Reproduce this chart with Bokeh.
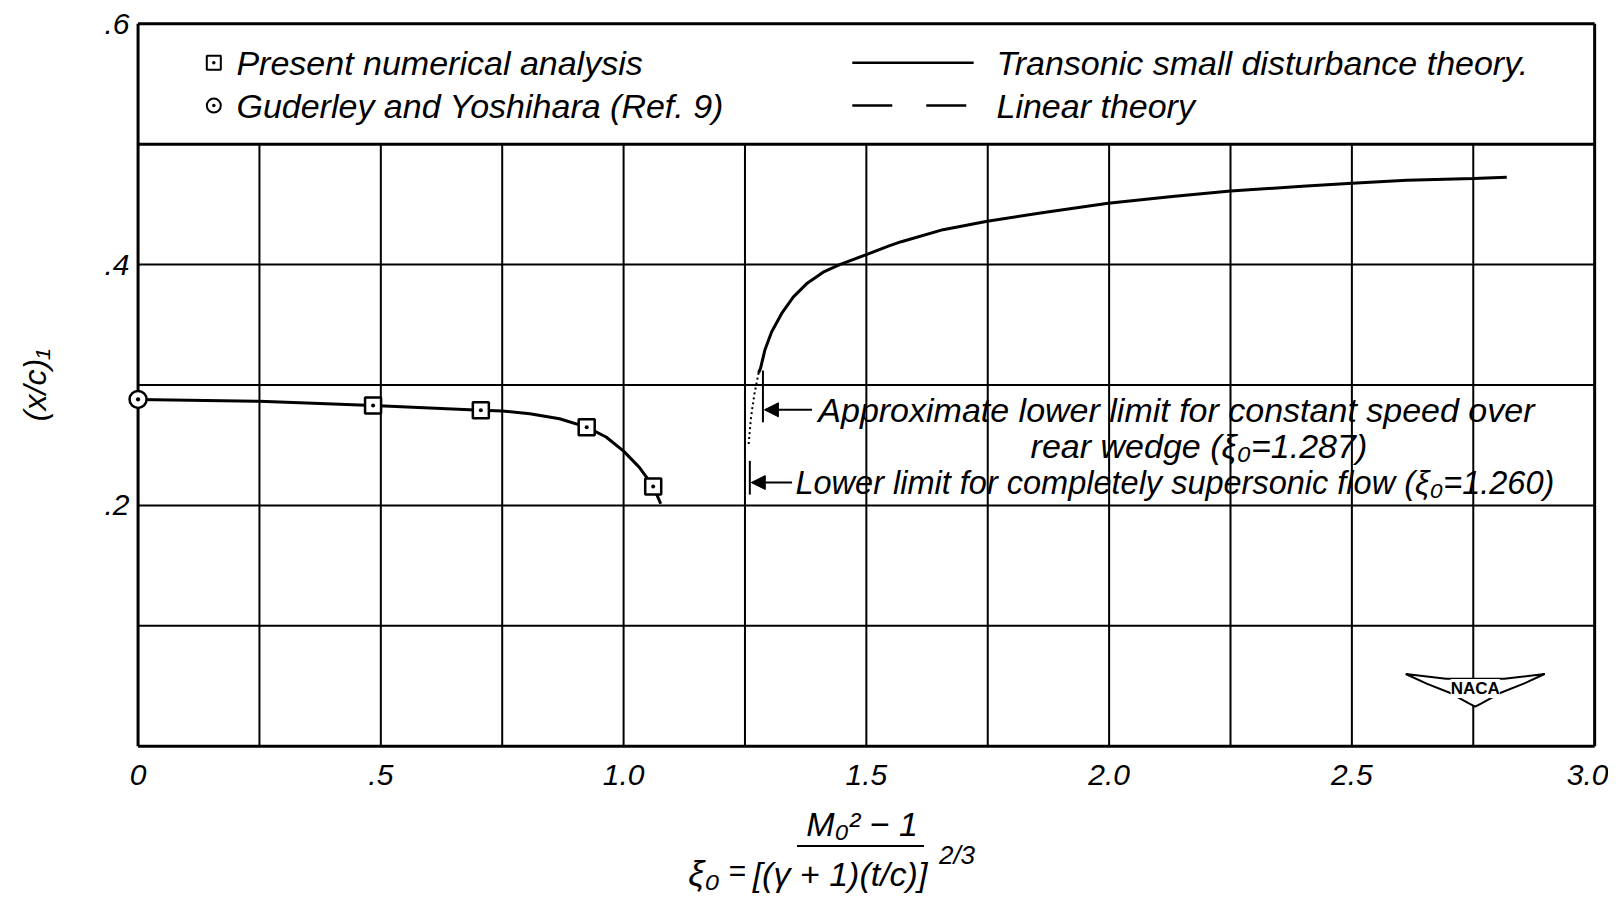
from bokeh.plotting import figure
from bokeh.layouts import column
from bokeh.models import Range1d, FixedTicker, Label, Arrow, NormalHead, Div
from bokeh.embed import file_html
from bokeh.resources import INLINE

# ---------------- data ----------------
# Present numerical analysis (squares)
num_x = [0.484, 0.706, 0.924, 1.061]
num_y = [0.283, 0.279, 0.265, 0.2158]
# Guderley and Yoshihara (Ref. 9) (circle)
gy_x = [0.0]
gy_y = [0.288]
# faired curve through numerical results
num_curve_x = [0.0, 0.25, 0.484, 0.706, 0.75, 0.807, 0.868, 0.924, 0.964, 1.0, 1.032, 1.061, 1.0765]
num_curve_y = [0.288, 0.2865, 0.283, 0.279, 0.2784, 0.2762, 0.272, 0.265, 0.2568, 0.2451, 0.2318, 0.2158, 0.2014]
# transonic small disturbance theory (solid)
tsd_x = [1.278, 1.282, 1.291, 1.3048, 1.3253, 1.3493, 1.3767, 1.411, 1.445, 1.50, 1.548,
         1.572, 1.658, 1.749, 1.862, 1.998, 2.130, 2.250, 2.398, 2.500, 2.613, 2.750, 2.819]
tsd_y = [0.310, 0.3138, 0.329, 0.344, 0.3592, 0.373, 0.384, 0.3937, 0.400, 0.4083, 0.4157,
         0.419, 0.429, 0.436, 0.443, 0.451, 0.4565, 0.461, 0.465, 0.4675, 0.470, 0.4714, 0.4725]
# transonic theory continued below approximate limit (dotted)
tsd_dot_x = [1.2576, 1.2624, 1.2692, 1.278]
tsd_dot_y = [0.251, 0.273, 0.292, 0.310]
# limits
xi_approx = 1.287
xi_approx_bar = [0.269, 0.312]
xi_lower = 1.260
xi_lower_bar = [0.209, 0.237]

# axes / grid
x_min, x_max = 0.0, 3.0
y_min, y_max = 0.0, 0.6
x_ticks = [0, 0.5, 1.0, 1.5, 2.0, 2.5, 3.0]
x_tick_labels = ["0", ".5", "1.0", "1.5", "2.0", "2.5", "3.0"]
y_ticks = [0.2, 0.4, 0.6]
y_tick_labels = [".2", ".4", ".6"]
x_grid = [0.25, 0.5, 0.75, 1.0, 1.25, 1.5, 1.75, 2.0, 2.25, 2.5, 2.75]
y_grid = [0.1, 0.2, 0.3, 0.4]
legend_bottom = 0.5

FONT = "Liberation Sans, DejaVu Sans, sans-serif"

# ranges padded slightly so edge markers are not clipped; the chart box is drawn at 0..3 x 0..0.6
p = figure(width=1608, height=800, x_range=Range1d(-0.03, 3.01), y_range=Range1d(-0.006, 0.606),
           output_backend="svg", toolbar_location=None,
           min_border_left=123, min_border_right=9, min_border_top=16, min_border_bottom=47)
p.background_fill_color = "white"
p.border_fill_color = "white"
p.outline_line_color = None
p.xgrid.visible = False
p.ygrid.visible = False

for ax in (p.xaxis, p.yaxis):
    ax.axis_line_color = None
    ax.major_tick_line_color = None
    ax.minor_tick_line_color = None
    ax.major_label_text_font = FONT
    ax.major_label_text_font_style = "italic"
    ax.major_label_text_font_size = "30px"
    ax.major_label_text_color = "black"

p.xaxis.ticker = FixedTicker(ticks=x_ticks)
p.xaxis.major_label_overrides = {t: s for t, s in zip(x_ticks, x_tick_labels)}
p.xaxis.major_label_standoff = 5
p.yaxis.ticker = FixedTicker(ticks=y_ticks)
p.yaxis.major_label_overrides = {t: s for t, s in zip(y_ticks, y_tick_labels)}
p.yaxis.major_label_standoff = -12
p.yaxis.axis_label = "(x/c)\u2081"
p.yaxis.axis_label_text_font = FONT
p.yaxis.axis_label_text_font_style = "italic"
p.yaxis.axis_label_text_font_size = "32px"
p.yaxis.axis_label_text_color = "black"
p.yaxis.axis_label_standoff = 48

# grid lines (only below legend box)
p.segment(x0=x_grid, y0=[y_min] * len(x_grid), x1=x_grid, y1=[legend_bottom] * len(x_grid),
          line_color="black", line_width=2)
p.segment(x0=[x_min] * len(y_grid), y0=y_grid, x1=[x_max] * len(y_grid), y1=y_grid,
          line_color="black", line_width=2)
p.segment(x0=[x_min], y0=[legend_bottom], x1=[x_max], y1=[legend_bottom], line_color="black", line_width=3)
# chart box
p.segment(x0=[x_min, x_max, x_min, x_min], y0=[y_min, y_min, y_min, y_max],
          x1=[x_min, x_max, x_max, x_max], y1=[y_max, y_max, y_min, y_max],
          line_color="black", line_width=3)

# curves
p.line(num_curve_x, num_curve_y, line_color="black", line_width=3)
p.line(tsd_x, tsd_y, line_color="black", line_width=3)
p.line(tsd_dot_x, tsd_dot_y, line_color="black", line_width=2, line_dash="2 3")

# limit bars
p.segment(x0=[xi_approx], y0=[xi_approx_bar[0]], x1=[xi_approx], y1=[xi_approx_bar[1]],
          line_color="black", line_width=2)
p.segment(x0=[xi_lower], y0=[xi_lower_bar[0]], x1=[xi_lower], y1=[xi_lower_bar[1]],
          line_color="black", line_width=2)

# markers
p.scatter(num_x, num_y, marker="square_dot", size=16, fill_color="white",
          line_color="black", line_width=2.5)
p.scatter(gy_x, gy_y, marker="circle_dot", size=17, fill_color="white",
          line_color="black", line_width=2.5)

TS = "34px"
def txt(x, y, s, align="left", size=TS, baseline="middle"):
    lab = Label(x=x, y=y, text=s, text_font=FONT, text_font_style="italic",
                text_font_size=size, text_align=align, text_baseline=baseline,
                text_color="black")
    p.add_layout(lab)
    return lab

# annotations with arrows
p.add_layout(Arrow(end=NormalHead(size=14, fill_color="black", line_color="black"),
                   x_start=1.388, y_start=0.2794, x_end=xi_approx + 0.003, y_end=0.2794,
                   line_color="black", line_width=2))
txt(1.401, 0.2794, "Approximate lower limit for constant speed over")
txt(2.185, 0.249, "rear wedge (\u03be\u2080=1.287)", align="center")
p.add_layout(Arrow(end=NormalHead(size=14, fill_color="black", line_color="black"),
                   x_start=1.347, y_start=0.219, x_end=xi_lower + 0.003, y_end=0.219,
                   line_color="black", line_width=2))
txt(1.354, 0.219, "Lower limit for completely supersonic flow (\u03be\u2080=1.260)", size="32.5px")

# legend (drawn inside top box)
leg_y1, leg_y2 = 0.5675, 0.532
p.scatter([0.156], [leg_y1], marker="square_dot", size=14, fill_color="white",
          line_color="black", line_width=2)
p.scatter([0.156], [leg_y2], marker="circle_dot", size=14, fill_color="white",
          line_color="black", line_width=2)
txt(0.2026, leg_y1, "Present numerical analysis")
txt(0.2026, leg_y2, "Guderley and Yoshihara (Ref. 9)")
p.line([1.471, 1.721], [leg_y1, leg_y1], line_color="black", line_width=2.5)
p.line([1.471, 1.721], [leg_y2, leg_y2], line_color="black", line_width=2.5, line_dash="40 34")
txt(1.768, leg_y1, "Transonic small disturbance theory.")
txt(1.768, leg_y2, "Linear theory")

# NACA logo
cx, cy = 2.754, 0.048
wing_dx = [-0.143, -0.06, 0.06, 0.143, 0.10, 0.05, 0.015, 0.0, -0.015, -0.05, -0.10]
wing_dy = [0.012, 0.008, 0.008, 0.012, 0.004, -0.004, -0.012, -0.015, -0.012, -0.004, 0.004]
p.patch([cx + d for d in wing_dx], [cy + d for d in wing_dy], fill_color="white",
        line_color="black", line_width=2)
p.add_layout(Label(x=cx, y=cy, text="NACA", text_font="Liberation Sans Narrow, Liberation Sans, sans-serif",
                   text_font_size="17px", text_font_style="bold", text_align="center",
                   text_baseline="middle", text_color="black", background_fill_color="white"))

# x-axis formula label (below the figure, HTML)
S = "position:absolute;transform:translate(-50%,-50%);white-space:nowrap;"
formula_html = (
    '<div style="position:relative;width:1608px;height:93px;overflow:hidden;'
    'font-family:\'Liberation Sans\',\'DejaVu Sans\',sans-serif;font-style:italic;color:black;">'
    f'<span style="{S}left:704px;top:74px;font-size:36px;">\u03be\u2080</span>'
    f'<span style="{S}left:737px;top:71px;font-size:30px;">=</span>'
    f'<span style="{S}left:862px;top:24px;font-size:34px;">M\u2080\u00b2 \u2212 1</span>'
    '<div style="position:absolute;left:797px;top:45px;width:127px;height:0;border-top:2.5px solid black;"></div>'
    f'<span style="{S}left:840px;top:74px;font-size:34px;">[(\u03b3 + 1)(t/c)]</span>'
    f'<span style="{S}left:957px;top:56px;font-size:26px;">2/3</span>'
    '</div>'
)
div = Div(text=formula_html, width=1608, height=93, margin=0)

layout = column(p, div, spacing=0)
open("out.html", "w").write(file_html(layout, INLINE))
